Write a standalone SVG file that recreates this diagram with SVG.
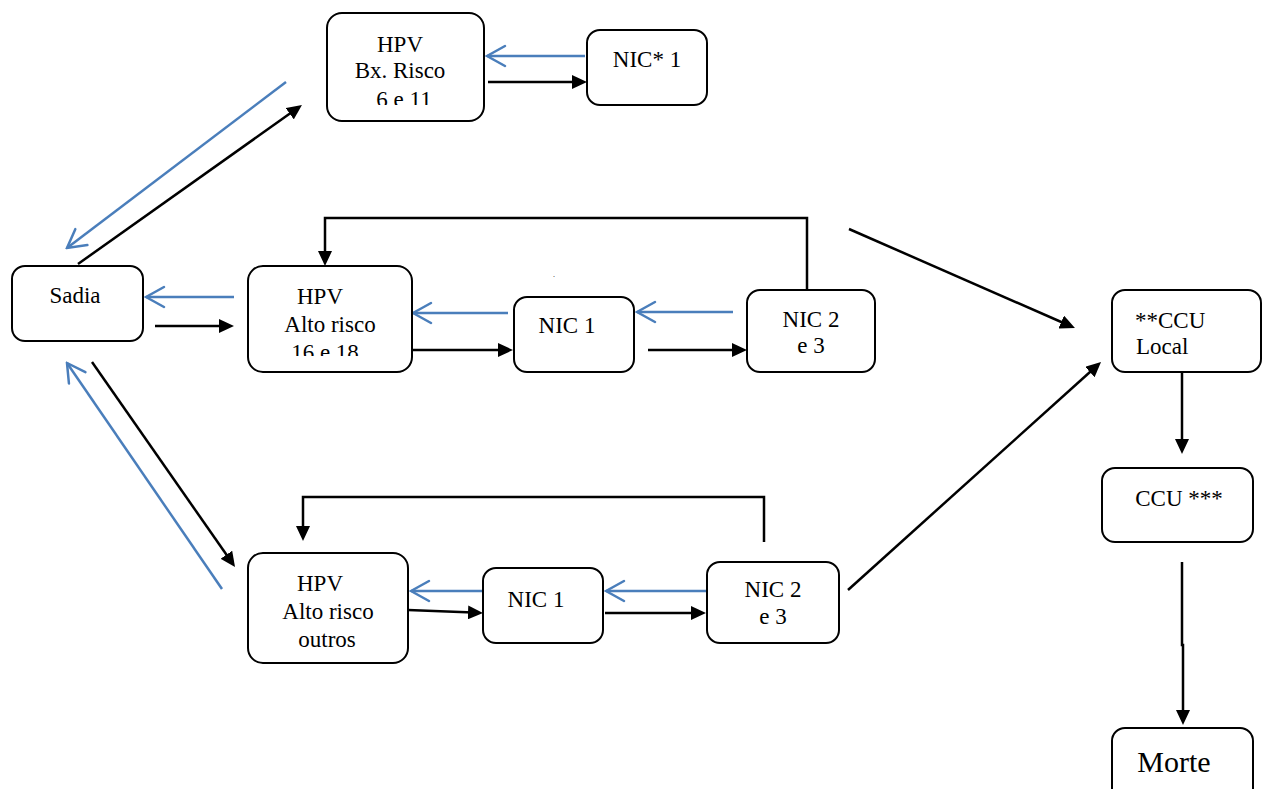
<svg xmlns="http://www.w3.org/2000/svg" width="1262" height="789" viewBox="0 0 1262 789">
<style>
.box{fill:#fff;stroke:#000;stroke-width:2}
text{font-family:'Liberation Serif','DejaVu Serif','Times New Roman',Times,serif;font-size:23px;fill:#000}
.big{font-size:30px}
.blk{fill:none;stroke:#000;stroke-width:2.5}
.blu{fill:none;stroke:#4a7ebb;stroke-width:2.5}
</style>
<defs>
<marker id="ab" viewBox="0 0 15 14" refX="5" refY="7" markerWidth="15" markerHeight="14" markerUnits="userSpaceOnUse" orient="auto">
<path d="M0,0 L15,7 L0,14 z" fill="#000"/>
</marker>
<marker id="ao" viewBox="-20 -12 22 24" refX="0" refY="0" markerWidth="22" markerHeight="24" markerUnits="userSpaceOnUse" orient="auto">
<path d="M-18,-10 L0,0 L-18,10" fill="none" stroke="#4a7ebb" stroke-width="2.5" stroke-linecap="round"/>
</marker>
<clipPath id="c1"><rect x="327" y="13" width="157" height="92"/></clipPath>
<clipPath id="c2"><rect x="248" y="266" width="164" height="90"/></clipPath>
</defs>
<rect width="1262" height="789" fill="#fff"/>
<g id="connectors">
<line class="blu" x1="585" y1="56" x2="487" y2="56" marker-end="url(#ao)"/>
<line class="blk" x1="488" y1="82" x2="577" y2="82" marker-end="url(#ab)"/>
<line class="blu" x1="286" y1="82" x2="67" y2="248" marker-end="url(#ao)"/>
<line class="blk" x1="78" y1="264" x2="293.8" y2="110.8" marker-end="url(#ab)"/>
<line class="blu" x1="234" y1="297" x2="146" y2="297" marker-end="url(#ao)"/>
<line class="blk" x1="155" y1="326" x2="224" y2="326" marker-end="url(#ab)"/>
<line class="blu" x1="508" y1="313" x2="413" y2="313" marker-end="url(#ao)"/>
<line class="blk" x1="410" y1="350" x2="503" y2="350" marker-end="url(#ab)"/>
<line class="blu" x1="733" y1="312" x2="637" y2="312" marker-end="url(#ao)"/>
<line class="blk" x1="648" y1="350" x2="737" y2="350" marker-end="url(#ab)"/>
<path class="blk" d="M807,290 V218 H325 V256" marker-end="url(#ab)"/>
<line class="blk" x1="849" y1="229" x2="1065.8" y2="324" marker-end="url(#ab)"/>
<line class="blk" x1="848" y1="590" x2="1093.6" y2="368.7" marker-end="url(#ab)"/>
<line class="blk" x1="1182" y1="372" x2="1182" y2="444" marker-end="url(#ab)"/>
<path class="blk" d="M1182,562 V645 H1183 V715" marker-end="url(#ab)"/>
<line class="blk" x1="92" y1="362" x2="229.3" y2="558.8" marker-end="url(#ab)"/>
<line class="blu" x1="222" y1="589" x2="67" y2="363" marker-end="url(#ao)"/>
<path class="blk" d="M764,542 V497 H303 V531" marker-end="url(#ab)"/>
<line class="blu" x1="483" y1="591" x2="411" y2="591" marker-end="url(#ao)"/>
<line class="blk" x1="408" y1="610" x2="473" y2="612.6" marker-end="url(#ab)"/>
<line class="blu" x1="706" y1="591" x2="606" y2="591" marker-end="url(#ao)"/>
<line class="blk" x1="605" y1="613" x2="696" y2="613" marker-end="url(#ab)"/>
</g>
<g id="hpv-bx">
<rect class="box" x="327" y="13" width="157" height="108" rx="15"/>
<g clip-path="url(#c1)">
<text x="400" y="52" text-anchor="middle">HPV</text>
<text x="400" y="78" text-anchor="middle">Bx. Risco</text>
<text x="404" y="107" text-anchor="middle">6 e 11</text>
</g>
</g>
<g id="nic-star-1">
<rect class="box" x="587" y="30" width="120" height="75" rx="13"/>
<text x="647" y="67" text-anchor="middle">NIC* 1</text>
</g>
<g id="sadia">
<rect class="box" x="12" y="266" width="131" height="75" rx="13"/>
<text x="75" y="303" text-anchor="middle">Sadia</text>
</g>
<g id="hpv-16-18">
<rect class="box" x="248" y="266" width="164" height="106" rx="15"/>
<g clip-path="url(#c2)">
<text x="320" y="304" text-anchor="middle">HPV</text>
<text x="330" y="332" text-anchor="middle">Alto risco</text>
<text x="325" y="360" text-anchor="middle">16 e 18</text>
</g>
</g>
<text x="554" y="277" style="font-size:8px" text-anchor="middle">.</text>
<g id="nic1-mid">
<rect class="box" x="514" y="297" width="120" height="75" rx="13"/>
<text x="567" y="333" text-anchor="middle">NIC 1</text>
</g>
<g id="nic23-mid">
<rect class="box" x="747" y="290" width="128" height="82" rx="13"/>
<text x="811" y="327" text-anchor="middle">NIC 2</text>
<text x="811" y="353" text-anchor="middle">e 3</text>
</g>
<g id="ccu-local">
<rect class="box" x="1112" y="290" width="149" height="82" rx="13"/>
<text x="1135" y="328">**CCU</text>
<text x="1136" y="354">Local</text>
</g>
<g id="ccu3">
<rect class="box" x="1102" y="468" width="151" height="74" rx="13"/>
<text x="1179" y="506" text-anchor="middle">CCU ***</text>
</g>
<g id="morte">
<rect class="box" x="1112" y="728" width="141" height="75" rx="13"/>
<text class="big" x="1174" y="772" text-anchor="middle">Morte</text>
</g>
<g id="hpv-outros">
<rect class="box" x="248" y="553" width="160" height="110" rx="15"/>
<text x="320" y="591" text-anchor="middle">HPV</text>
<text x="328" y="619" text-anchor="middle">Alto risco</text>
<text x="327" y="647" text-anchor="middle">outros</text>
</g>
<g id="nic1-bot">
<rect class="box" x="483" y="568" width="120" height="75" rx="13"/>
<text x="536" y="607" text-anchor="middle">NIC 1</text>
</g>
<g id="nic23-bot">
<rect class="box" x="707" y="562" width="132" height="81" rx="13"/>
<text x="773" y="597" text-anchor="middle">NIC 2</text>
<text x="773" y="624" text-anchor="middle">e 3</text>
</g>
</svg>
